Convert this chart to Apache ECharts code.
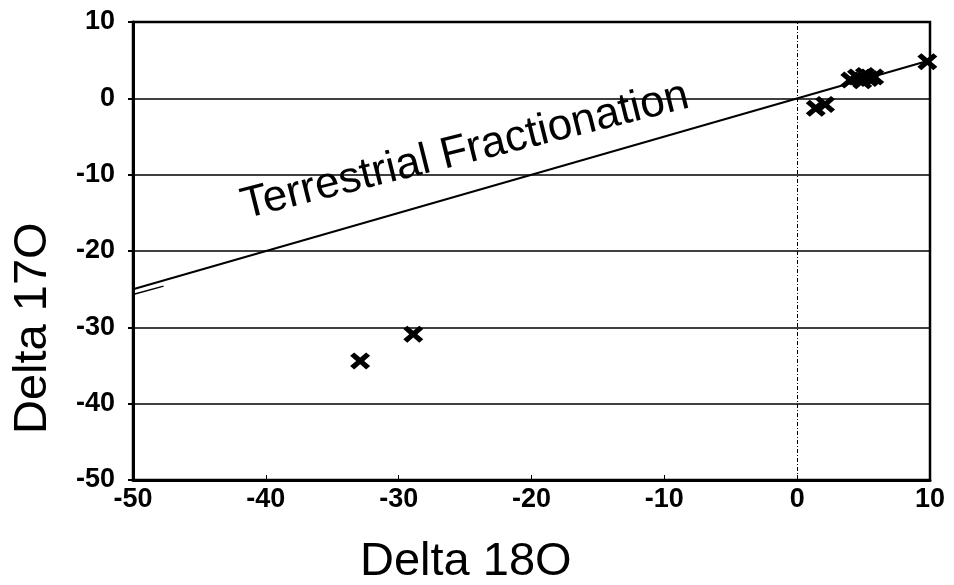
<!DOCTYPE html>
<html><head><meta charset="utf-8">
<script src="https://cdn.jsdelivr.net/npm/echarts@6/dist/echarts.min.js"></script>
<style>html,body{margin:0;padding:0;background:#fff}#c{width:954px;height:585px}</style>
</head><body><div id="c"></div>
<script>
const xTicks = [-50, -40, -30, -20, -10, 0, 10];
const yTicks = [-50, -40, -30, -20, -10, 0, 10];
const xTitle = 'Delta 18O';
const yTitle = 'Delta 17O';
const samples = [
  [-32.9, -34.4], [-28.9, -30.9],
  [1.4, -1.3], [2.1, -0.8],
  [4.0, 2.4], [4.5, 2.8], [4.9, 2.3], [5.1, 3.0], [5.4, 2.6], [5.8, 2.8],
  [9.8, 4.8]
];
const fractionationLine = [[-50, -25], [10, 5]];
const fractionationStub = [[-50, -25.7], [-47.7, -24.6]];
const lineLabelPos = [[-25.0, -6.9]];
const lineLabel = 'Terrestrial Fractionation';

const chart = echarts.init(document.getElementById('c'));
const X = 'path://M0,2 L2,0 L5,3 L8,0 L10,2 L7,5 L10,8 L8,10 L5,7 L2,10 L0,8 L3,5 Z';
chart.setOption({
  animation: false,
  grid: {left: 133, right: 24, top: 22, bottom: 105, show: true, borderColor: '#000', borderWidth: 2.5,
         outerBoundsMode: 'none', containLabel: false},
  graphic: [
    {type: 'text', left: 360, top: 539, style: {text: xTitle, font: '47px "Liberation Sans"', fill: '#000'}},
    {type: 'text', x: 10, y: 434, rotation: Math.PI / 2,
     style: {text: yTitle, font: '47px "Liberation Sans"', fill: '#000', textAlign: 'left', textVerticalAlign: 'top'}}
  ],
  xAxis: {
    type: 'value', min: -50, max: 10, interval: 10,
    axisLine: {show: true, onZero: false, lineStyle: {color: '#000', width: 3}},
    axisTick: {show: true, inside: true, length: 5, lineStyle: {color: '#000'}},
    axisLabel: {color: '#000', fontFamily: 'Liberation Sans', fontWeight: 'bold', fontSize: 27, margin: 6,
      formatter: v => xTicks.includes(v) ? String(v) : ''},
    splitLine: {show: false}
  },
  yAxis: {
    type: 'value', min: -50, max: 10, interval: 10,
    axisLine: {show: true, onZero: false, lineStyle: {color: '#000', width: 3}},
    axisTick: {show: true, length: 5, lineStyle: {color: '#000', width: 2}},
    axisLabel: {color: '#000', fontFamily: 'Liberation Sans', fontWeight: 'bold', fontSize: 27, margin: 18,
      formatter: v => yTicks.includes(v) ? String(v) : ''},
    splitLine: {show: true, lineStyle: {color: '#000', width: 1.5}}
  },
  series: [
    {type: 'line', data: fractionationLine, symbol: 'none', lineStyle: {color: '#000', width: 2}, z: 3,
     markLine: {silent: true, symbol: 'none', label: {show: false},
       lineStyle: {color: '#000', type: [4, 2, 1, 2], width: 1}, data: [{xAxis: 0}]}},
    {type: 'line', data: fractionationStub, symbol: 'none', lineStyle: {color: '#000', width: 1.5}, z: 3},
    {type: 'scatter', data: samples, symbol: X, symbolSize: [20, 17], itemStyle: {color: '#000', opacity: 1}, z: 5},
    {type: 'scatter', data: lineLabelPos, symbolSize: 0, z: 6, itemStyle: {opacity: 1},
     label: {show: true, position: 'inside', formatter: lineLabel, rotate: 14, opacity: 1,
       fontFamily: 'Liberation Sans', fontSize: 44, color: '#000'}}
  ]
});
</script></body></html>
